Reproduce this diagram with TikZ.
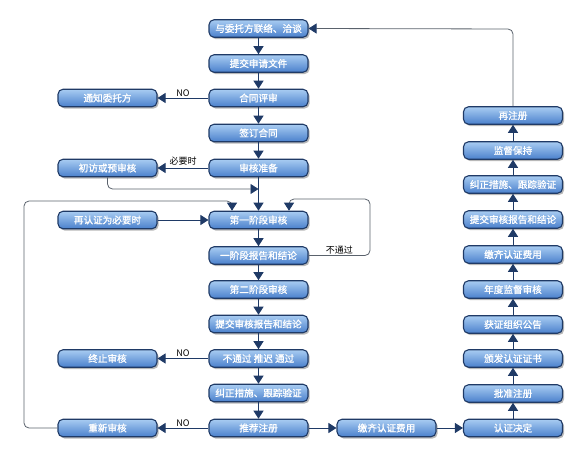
\documentclass[tikz,border=0pt]{standalone}
\usepackage{fontspec}
\newfontfamily\cjk{Noto Sans CJK SC}
\newfontfamily\cjkb[FakeBold=1.2]{Noto Sans CJK SC}
\usetikzlibrary{arrows.meta,shadows}
\definecolor{navy}{HTML}{1F3A66}
\definecolor{boxtop}{HTML}{A8CCF2}
\definecolor{boxbot}{HTML}{4A80CC}
\definecolor{loopc}{HTML}{5A626C}
\tikzset{
  box/.style={rounded corners=5pt, minimum width=99pt, minimum height=17.5pt,
    inner sep=0pt, top color=boxtop, bottom color=boxbot, draw=navy, line width=1.1pt,
    text=white, font=\cjkb\fontsize{9.6}{10}\selectfont,
    drop shadow={shadow xshift=1.6pt, shadow yshift=-1.8pt, fill=black!35, opacity=0.8}},
  tip/.style={-{Triangle[length=8pt,width=10pt,fill=navy,color=navy]}},
  conn/.style={tip, draw=navy, line width=1pt},
  loopline/.style={tip, draw=loopc, line width=0.8pt, rounded corners=5pt},
  lbl/.style={font=\cjk\fontsize{9}{10}\selectfont, text=black, inner sep=1pt}
}
\begin{document}
\begin{tikzpicture}[x=1pt,y=-1pt]
\useasboundingbox (0,0) rectangle (584,474);
% center column
\node[box] (c1) at (258.5,28.5) {与委托方联络、洽谈};
\node[box] (c2) at (258.5,63.5) {提交申请文件};
\node[box] (c3) at (258.5,98) {合同评审};
\node[box] (c4) at (258.5,133) {签订合同};
\node[box] (c5) at (258.5,168) {审核准备};
\node[box] (c6) at (258.5,220) {第一阶段审核};
\node[box] (c7) at (258.5,255.5) {一阶段报告和结论};
\node[box] (c8) at (258.5,289.5) {第二阶段审核};
\node[box] (c9) at (258.5,324) {提交审核报告和结论};
\node[box] (c10) at (258.5,358.5) {不通过 推迟 通过};
\node[box] (c11) at (258.5,393) {纠正措施、跟踪验证};
\node[box] (c12) at (258.5,428) {推荐注册};
% left column
\node[box] (l3) at (107.5,98) {通知委托方};
\node[box] (l5) at (107.5,168) {初访或预审核};
\node[box] (l6) at (107.5,220) {再认证为必要时};
\node[box] (l10) at (107.5,358.5) {终止审核};
\node[box] (l12) at (107.5,428) {重新审核};
% bottom middle
\node[box] (m12) at (386.5,428) {缴齐认证费用};
% right column
\node[box] (r1) at (513,115.5) {再注册};
\node[box] (r2) at (513,150.5) {监督保持};
\node[box] (r3) at (513,184.5) {纠正措施、跟踪验证};
\node[box] (r4) at (513,219.5) {提交审核报告和结论};
\node[box] (r5) at (513,254.5) {缴齐认证费用};
\node[box] (r6) at (513,289.5) {年度监督审核};
\node[box] (r7) at (513,324.5) {获证组织公告};
\node[box] (r8) at (513,358.5) {颁发认证证书};
\node[box] (r9) at (513,393.5) {批准注册};
\node[box] (r10) at (513,428) {认证决定};
% coordinates
\coordinate (j1) at (258.5,189);
\coordinate (k1) at (370,199);
\coordinate (k2) at (289,199);
\coordinate (k3) at (24,201);
\coordinate (k4) at (232,201);
\coordinate (t1) at (513,29);
% center chain
\foreach \a/\b in {c1/c2,c2/c3,c3/c4,c4/c5,c5/c6,c6/c7,c7/c8,c8/c9,c9/c10,c10/c11,c11/c12}
  \draw[conn] (\a) -- (\b);
% right chain
\foreach \a/\b in {r10/r9,r9/r8,r8/r7,r7/r6,r6/r5,r5/r4,r4/r3,r3/r2,r2/r1}
  \draw[conn] (\a) -- (\b);
% side arrows
\draw[conn] (c3) -- node[lbl,above]{NO} (l3);
\draw[conn] (c5) -- node[lbl,above,yshift=1pt]{必要时} (l5);
\draw[conn] (l6) -- (c6);
\draw[conn] (c10) -- node[lbl,above]{NO} (l10);
\draw[conn] (c12) -- node[lbl,above]{NO} (l12);
\draw[conn] (c12) -- (m12);
\draw[conn] (m12) -- (r10);
% loops
\draw[loopline] (l5.south) |- (j1);
\draw[loopline] (c7.east) -- node[lbl,above,pos=0.5]{不通过} (c7.east -| k1) -- (k1) -- (k2) -- (k2 |- c6.north);
\draw[loopline] (l12.west) -- (l12.west -| k3) -- (k3) -- (k4) -- (k4 |- c6.north);
\draw[loopline] (r1.north) -- (t1) -- (c1.east);
\end{tikzpicture}
\end{document}
